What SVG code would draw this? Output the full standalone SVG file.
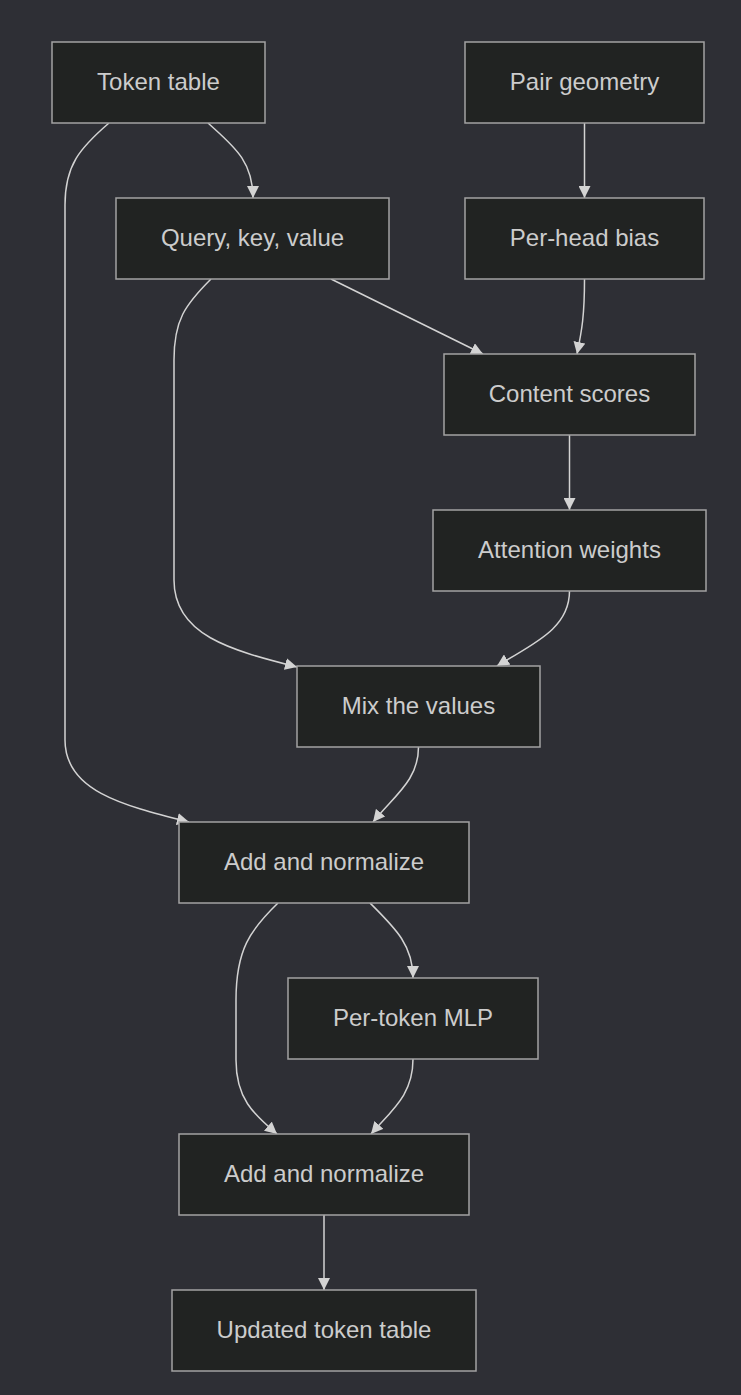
<svg xmlns="http://www.w3.org/2000/svg" width="741" height="1395" viewBox="0 0 741 1395">
<style>
.node rect{fill:#212322;stroke:#a3a3a3;stroke-width:1.5}
.node text{fill:#cccccc;font-family:"Liberation Sans",Arial,sans-serif;font-size:24px;text-anchor:middle;dominant-baseline:central}
.edges path{fill:none;stroke:#d3d3d3;stroke-width:1.5}
</style>
<defs>
<marker id="arr" viewBox="0 0 10 10" refX="10" refY="5" markerWidth="12" markerHeight="12" markerUnits="userSpaceOnUse" orient="auto">
<path d="M0,0 L10,5 L0,10 z" fill="#d3d3d3"/>
</marker>
</defs>
<rect width="741" height="1395" fill="#2e2f35"/>
<g class="edges">
<path marker-end="url(#arr)" d="M208,123 C232,145 253,160 253,198"/>
<path marker-end="url(#arr)" d="M109,123 C80,148 65,165 65,205 L65,740 C65,790 120,805 189,822"/>
<path marker-end="url(#arr)" d="M584.5,123 L584.5,198"/>
<path marker-end="url(#arr)" d="M331,279 L483,354"/>
<path marker-end="url(#arr)" d="M584.5,279 C584.5,315 582,330 577,354"/>
<path marker-end="url(#arr)" d="M211,279 C185,305 174,320 174,360 L174,580 C174,635 230,650 297,667"/>
<path marker-end="url(#arr)" d="M569.5,435 L569.5,510"/>
<path marker-end="url(#arr)" d="M569.5,591 C569.5,630 530,645 497,666"/>
<path marker-end="url(#arr)" d="M418.5,747 C418.5,780 395,795 373,822"/>
<path marker-end="url(#arr)" d="M370,903 C395,928 413,945 413,978"/>
<path marker-end="url(#arr)" d="M278,903 C250,930 236,950 236,1000 L236,1060 C236,1100 255,1115 277,1134"/>
<path marker-end="url(#arr)" d="M413,1059 C413,1095 392,1110 371,1134"/>
<path marker-end="url(#arr)" d="M324,1215 L324,1290"/>
</g>
<g class="node" id="token"><rect x="52" y="42" width="213" height="81"/><text x="158.5" y="81">Token table</text></g>
<g class="node" id="pair"><rect x="465" y="42" width="239" height="81"/><text x="584.5" y="81">Pair geometry</text></g>
<g class="node" id="qkv"><rect x="116" y="198" width="273" height="81"/><text x="252.5" y="237">Query, key, value</text></g>
<g class="node" id="bias"><rect x="465" y="198" width="239" height="81"/><text x="584.5" y="237">Per-head bias</text></g>
<g class="node" id="scores"><rect x="444" y="354" width="251" height="81"/><text x="569.5" y="393">Content scores</text></g>
<g class="node" id="attn"><rect x="433" y="510" width="273" height="81"/><text x="569.5" y="549">Attention weights</text></g>
<g class="node" id="mix"><rect x="297" y="666" width="243" height="81"/><text x="418.5" y="705">Mix the values</text></g>
<g class="node" id="add1"><rect x="179" y="822" width="290" height="81"/><text x="324" y="861">Add and normalize</text></g>
<g class="node" id="mlp"><rect x="288" y="978" width="250" height="81"/><text x="413" y="1017">Per-token MLP</text></g>
<g class="node" id="add2"><rect x="179" y="1134" width="290" height="81"/><text x="324" y="1173">Add and normalize</text></g>
<g class="node" id="out"><rect x="172" y="1290" width="304" height="81"/><text x="324" y="1329">Updated token table</text></g>
</svg>
